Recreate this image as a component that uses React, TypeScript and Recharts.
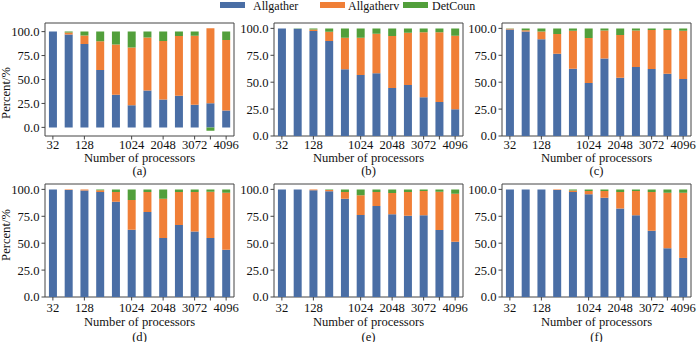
import React from "react";
import { Bar, BarChart, CartesianGrid, Label, Legend, XAxis, YAxis } from "recharts";

const processors = ["32", "64", "128", "256", "512", "1024", "1536", "2048", "2560", "3072", "3584", "4096"];
const labeledTicks = ["32", "128", "1024", "2048", "3072", "4096"];
const markOnlyTicks = ["3584"];
const yTicks = [0, 25, 50, 75, 100];
const seriesNames = ["Allgather", "Allgatherv", "DetCoun"];

// (a)
const allgatherA = [100, 97, 87, 60, 34, 23, 38.5, 29, 33, 23.6, 25.3, 17.7];
const allgathervA = [0, 2, 9, 30, 52.5, 60.5, 55.3, 61.3, 62.5, 72.2, 78.2, 73.6];
const detcounA = [0, 1, 4, 10, 13.5, 16.5, 6.2, 9.7, 4.5, 4.2, -3.4, 8.7];
// (b)
const allgatherB = [100, 99.6, 97.5, 88.2, 62, 56.7, 58.2, 44.6, 47.4, 35.9, 31.6, 24.8];
const allgathervB = [0, 0, 1.5, 8.7, 29.3, 34.6, 36.8, 48.3, 48.6, 60.4, 64.7, 68.4];
const detcounB = [0, 0.4, 1, 3.1, 8.7, 8.7, 5, 7.1, 4, 3.7, 3.7, 6.8];
// (c)
const allgatherC = [99, 97, 90, 76.5, 62.5, 49.2, 72, 54.2, 64, 62.2, 57.9, 53];
const allgathervC = [0.6, 1.2, 7, 18.2, 35.3, 41.8, 26, 39.6, 34, 36.3, 40.6, 44.8];
const detcounC = [0.4, 1.8, 3, 5.3, 2.2, 9, 2, 6.2, 2, 1.5, 1.5, 2.2];
// (d)
const allgatherD = [100, 99.4, 99, 97.5, 88.6, 62.5, 79, 54.8, 66.8, 60.9, 54.8, 44];
const allgathervD = [0, 0.4, 1, 1.8, 8.9, 27.7, 18.5, 36.6, 30.7, 36.6, 43, 52.9];
const detcounD = [0, 0.2, 0, 0.7, 2.5, 9.8, 2.5, 8.6, 2.5, 2.5, 2.2, 3.1];
// (e)
const allgatherE = [100, 100, 99.3, 98.3, 91.4, 76.3, 84.6, 76.9, 75.4, 76, 62.2, 51.4];
const allgathervE = [0, 0, 0.5, 1.2, 6.1, 18.2, 12.9, 19.7, 22.1, 22.5, 35.6, 44.6];
const detcounE = [0, 0, 0.2, 0.5, 2.5, 5.5, 2.5, 3.4, 2.5, 1.5, 2.2, 4];
// (f)
const allgatherF = [100, 100, 100, 99.4, 97.5, 95.4, 92.3, 82.2, 76, 61.5, 45.2, 36.3];
const allgathervF = [0, 0, 0, 0.5, 1.5, 3.1, 6.2, 15.3, 22.5, 36, 51.7, 60.6];
const detcounF = [0, 0, 0, 0.1, 1, 1.5, 1.5, 2.5, 1.5, 2.5, 3.1, 3.1];

const blue = "#4a6ea5";
const orange = "#f07f37";
const green = "#529f3b";
const frame = "#444";
const font = "Liberation Serif, Times New Roman, serif";

type PanelProps = {
  left: number;
  top: number;
  caption: string;
  a: number[];
  b: number[];
  c: number[];
  domain: [number, number];
  row: 1 | 2;
  yLabel?: boolean;
  legend?: boolean;
};

// swatch x and text x inside the legend box (box starts at page x 215)
const legendSwatchX = [5, 105, 188];
const legendTextX = [38, 133, 217];

const renderLegend = (props: any) => {
  const items = props.payload || [];
  return (
    <svg width={300} height={14} style={{ overflow: "visible" }}>
      {items.map((it: any, i: number) => (
        <g key={i}>
          <rect x={legendSwatchX[i]} y={2} width={25} height={6} fill={it.color} />
          <text x={legendTextX[i]} y={10} fontSize={12} fontFamily={font} fill="#111">
            {it.value}
          </text>
        </g>
      ))}
    </svg>
  );
};

function Panel({ left, top, caption, a, b, c, domain, row, yLabel, legend }: PanelProps) {
  const rows = processors.map((p, i) => ({ p, a: a[i], b: b[i], c: c[i] }));
  const tickBase = row === 1 ? 13 : 14.5;

  const XTick = ({ x, y, payload }: any) => {
    const v = payload.value;
    if (labeledTicks.includes(v)) {
      return (
        <g>
          <line x1={x} x2={x} y1={y} y2={y + 3.5} stroke={frame} />
          <text x={x} y={y + tickBase} textAnchor="middle" fontSize={12.6} fontFamily={font} fill="#111">
            {v}
          </text>
        </g>
      );
    }
    if (markOnlyTicks.includes(v)) {
      return <line x1={x} x2={x} y1={y} y2={y + 3.5} stroke={frame} />;
    }
    return null;
  };

  const yLabelY = row === 1 ? 75 : 56;

  return (
    <div style={{ position: "absolute", left, top }}>
      <BarChart
        width={244}
        height={163}
        data={rows}
        stackOffset="sign"
        barCategoryGap="25%"
        margin={{ top: 5, right: 10, left: 0, bottom: 0 }}
      >
        <CartesianGrid
          stroke={frame}
          strokeWidth={1}
          horizontalCoordinatesGenerator={({ offset }: any) => [offset.top, offset.top + offset.height]}
          verticalCoordinatesGenerator={({ offset }: any) => [offset.left, offset.left + offset.width]}
        />
        <XAxis
          dataKey="p"
          interval={0}
          height={45}
          axisLine={false}
          tickLine={false}
          tickSize={0}
          tickMargin={0}
          tick={<XTick />}
        >
          <Label
            value="Number of processors"
            position="insideBottom"
            offset={row === 1 ? 19.5 : 16}
            fontSize={12.6}
            fontFamily={font}
            fill="#111"
          />
          <Label
            value={caption}
            position="insideBottom"
            offset={row === 1 ? 6 : 1.5}
            fontSize={12.6}
            fontFamily={font}
            fill="#111"
          />
        </XAxis>
        <YAxis
          width={45}
          domain={domain}
          allowDataOverflow
          ticks={yTicks}
          axisLine={false}
          tickSize={3.5}
          tickMargin={2}
          tickLine={{ stroke: frame }}
          tickFormatter={(v: number) => v.toFixed(1)}
          tick={{ fill: "#111", fontSize: 12.6, fontFamily: font }}
        >
          {yLabel && (
            <Label
              content={() => (
                <text
                  x={10}
                  y={yLabelY}
                  transform={`rotate(-90, 10, ${yLabelY})`}
                  textAnchor="middle"
                  fontSize={12.6}
                  fontFamily={font}
                  fill="#111"
                >
                  Percent/%
                </text>
              )}
            />
          )}
        </YAxis>
        {legend && (
          <Legend
            layout="horizontal"
            verticalAlign="middle"
            align="center"
            content={renderLegend}
            wrapperStyle={{ position: "absolute", left: -14, top: -18, width: 300, height: 14 }}
          />
        )}
        <Bar dataKey="a" name={seriesNames[0]} stackId="s" fill={blue} isAnimationActive={false} />
        <Bar dataKey="b" name={seriesNames[1]} stackId="s" fill={orange} isAnimationActive={false} />
        <Bar dataKey="c" name={seriesNames[2]} stackId="s" fill={green} isAnimationActive={false} />
      </BarChart>
    </div>
  );
}

export default function App() {
  return (
    <div
      style={{
        position: "absolute",
        left: 0,
        top: 0,
        width: 700,
        height: 347,
        background: "#fff",
        overflow: "hidden",
        fontFamily: font,
      }}
    >
      <Panel left={0} top={18} caption="(a)" a={allgatherA} b={allgathervA} c={detcounA} domain={[-9, 109]} row={1} yLabel />
      <Panel left={229} top={18} caption="(b)" a={allgatherB} b={allgathervB} c={detcounB} domain={[0, 105]} row={1} legend />
      <Panel left={457} top={18} caption="(c)" a={allgatherC} b={allgathervC} c={detcounC} domain={[0, 105]} row={1} />
      <Panel left={0} top={179} caption="(d)" a={allgatherD} b={allgathervD} c={detcounD} domain={[0, 105]} row={2} yLabel />
      <Panel left={229} top={179} caption="(e)" a={allgatherE} b={allgathervE} c={detcounE} domain={[0, 105]} row={2} />
      <Panel left={457} top={179} caption="(f)" a={allgatherF} b={allgathervF} c={detcounF} domain={[0, 105]} row={2} />
    </div>
  );
}
